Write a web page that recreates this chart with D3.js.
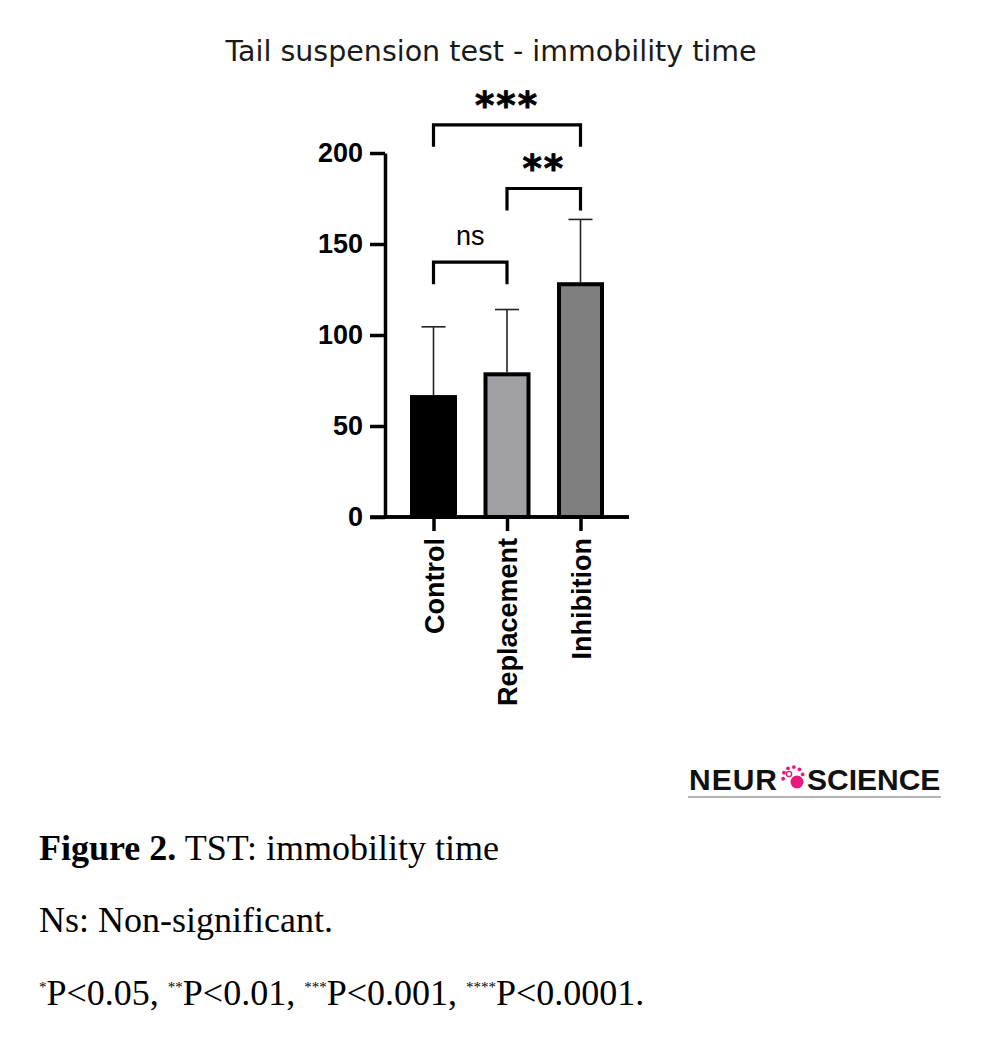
<!DOCTYPE html>
<html>
<head>
<meta charset="utf-8">
<script src="https://cdn.jsdelivr.net/npm/d3@7"></script>
<style>
  body { margin: 0; background: #fff; }
</style>
</head>
<body>
<div id="chart"></div>
<script>
// data
var groups = ["Control", "Replacement", "Inhibition"];
var means = [67, 79.5, 129];
var errors = [37.5, 34.5, 34.5];
var fills = ["#000000", "#a0a0a4", "#7f7f7f"];
var yTicks = [0, 50, 100, 150, 200];

// significance brackets: group indexes, bracket height (data units), label
var pairFrom = [0, 1, 0];
var pairTo = [1, 2, 2];
var pairY = [140, 180.5, 215.5];
var pairLabel = ["ns", "**", "***"];

var W = 983, H = 1044;

var svg = d3.select("#chart")
    .append("svg")
    .attr("width", W)
    .attr("height", H)
    .style("font-family", "'Liberation Sans', Arial, sans-serif");

svg.append("rect").attr("width", W).attr("height", H).attr("fill", "#fff");

// title
svg.append("text")
    .attr("x", 491)
    .attr("y", 61)
    .attr("text-anchor", "middle")
    .style("font-family", "'DejaVu Sans', Verdana, sans-serif")
    .style("font-size", "28.5px")
    .style("fill", "#1a1a1a")
    .text("Tail suspension test - immobility time");

// scales
var y = d3.scaleLinear().domain([0, 200]).range([517, 153]);
var x = d3.scalePoint().domain(groups).range([433.5, 580.5]);
var axisX0 = 385, axisX1 = 629;
var barW = 47, stroke = 4;

// y axis
var yAxis = svg.append("g")
    .attr("transform", "translate(" + axisX0 + ",0)")
    .call(d3.axisLeft(y).tickValues(yTicks).tickSize(15).tickSizeOuter(0).tickPadding(7));
yAxis.select(".domain").attr("stroke", "#000").attr("stroke-width", 3.5);
yAxis.selectAll(".tick line").attr("stroke", "#000").attr("stroke-width", 3.5);
yAxis.selectAll(".tick text")
    .style("font-family", "'Liberation Sans', Arial, sans-serif")
    .style("font-size", "27px")
    .style("font-weight", "bold")
    .attr("fill", "#000");

// x axis
var xAxis = svg.append("g")
    .attr("transform", "translate(0," + y(0) + ")")
    .call(d3.axisBottom(x).tickSize(14).tickSizeOuter(0).tickPadding(0));
xAxis.select(".domain").remove();
xAxis.selectAll(".tick line").attr("stroke", "#000").attr("stroke-width", 3.5);
xAxis.selectAll(".tick text")
    .attr("transform", "translate(0,21) rotate(-90)")
    .attr("text-anchor", "end")
    .attr("x", 0)
    .attr("y", 0)
    .attr("dy", "0.36em")
    .style("font-family", "'Liberation Sans', Arial, sans-serif")
    .style("font-size", "27px")
    .style("font-weight", "bold")
    .attr("fill", "#000");
xAxis.append("line")
    .attr("x1", axisX0 - 15)
    .attr("x2", axisX1)
    .attr("y1", 0)
    .attr("y2", 0)
    .attr("stroke", "#000")
    .attr("stroke-width", 3.5);

// error bars (upper only)
var err = svg.append("g").attr("stroke", "#222").attr("stroke-width", 1.6);
groups.forEach(function (g, i) {
    var cx = x(g);
    err.append("line")
        .attr("x1", cx).attr("x2", cx)
        .attr("y1", y(means[i])).attr("y2", y(means[i] + errors[i]));
    err.append("line")
        .attr("x1", cx - 12).attr("x2", cx + 12)
        .attr("y1", y(means[i] + errors[i])).attr("y2", y(means[i] + errors[i]));
});

// bars
svg.append("g")
    .selectAll("rect")
    .data(groups)
    .enter()
    .append("rect")
    .attr("x", function (d) { return x(d) - barW / 2 + stroke / 2; })
    .attr("y", function (d, i) { return y(means[i]) + stroke / 2; })
    .attr("width", barW - stroke)
    .attr("height", function (d, i) { return y(0) - y(means[i]) - stroke / 2; })
    .attr("fill", function (d, i) { return fills[i]; })
    .attr("stroke", "#000")
    .attr("stroke-width", stroke);

// redraw baseline over bar bottoms
svg.append("line")
    .attr("x1", axisX0).attr("x2", axisX1)
    .attr("y1", y(0)).attr("y2", y(0))
    .attr("stroke", "#000").attr("stroke-width", 3.5);

// brackets
var legLen = 22;
var br = svg.append("g");
pairY.forEach(function (v, i) {
    var x1 = x(groups[pairFrom[i]]), x2 = x(groups[pairTo[i]]);
    var top = y(v);
    br.append("path")
        .attr("d", "M" + x1 + "," + (top + legLen) + "V" + top + "H" + x2 + "V" + (top + legLen))
        .attr("fill", "none")
        .attr("stroke", "#000")
        .attr("stroke-width", 3.2);
    var isNs = pairLabel[i] === "ns";
    br.append("text")
        .attr("x", (x1 + x2) / 2)
        .attr("y", isNs ? top - 17 : top - 7)
        .attr("text-anchor", "middle")
        .style("font-family", isNs ? "'Liberation Sans', Arial, sans-serif" : "'DejaVu Sans', sans-serif")
        .style("font-size", isNs ? "27px" : "37px")
        .style("font-weight", isNs ? "normal" : "bold")
        .style("letter-spacing", isNs ? "0px" : "2px")
        .attr("stroke", isNs ? "none" : "#000")
        .attr("stroke-width", isNs ? 0 : 0.8)
        .attr("fill", "#000")
        .text(pairLabel[i]);
});

// journal logo
var logo = svg.append("g").style("font-family", "'Liberation Sans', Arial, sans-serif")
    .style("font-weight", "bold").style("font-size", "30px").attr("fill", "#111");
logo.append("text").attr("x", 689).attr("y", 790).style("letter-spacing", "1px").text("NEUR");
logo.append("text").attr("x", 807).attr("y", 790).text("SCIENCE");
var ring = [170, 205, 240, 275, 310, 345];
ring.forEach(function (a) {
    var r = a * Math.PI / 180;
    logo.append("circle")
        .attr("cx", 793 + 10 * Math.cos(r))
        .attr("cy", 777 + 10 * Math.sin(r))
        .attr("r", 1.9)
        .attr("fill", "#e8197d");
});
logo.append("circle").attr("cx", 797).attr("cy", 782).attr("r", 6.5).attr("fill", "#e8197d");
logo.append("circle").attr("cx", 789).attr("cy", 774).attr("r", 2.6).attr("fill", "none")
    .attr("stroke", "#e8197d").attr("stroke-width", 1.4);
logo.append("line").attr("x1", 688).attr("x2", 941).attr("y1", 797).attr("y2", 797)
    .attr("stroke", "#9a9a9a").attr("stroke-width", 1.5);

// caption
var cap = svg.append("g")
    .style("font-family", "'Liberation Serif', 'Times New Roman', serif")
    .style("font-size", "36px")
    .attr("fill", "#000");
var l1 = cap.append("text").attr("x", 39).attr("y", 860);
l1.append("tspan").style("font-weight", "bold").text("Figure 2.");
l1.append("tspan").text(" TST: immobility time");
cap.append("text").attr("x", 39).attr("y", 932).text("Ns: Non-significant.");
var l3 = cap.append("text").attr("x", 39).attr("y", 1005);
var levels = ["*", "**", "***", "****"];
var pvals = ["P<0.05, ", "P<0.01, ", "P<0.001, ", "P<0.0001."];
levels.forEach(function (s, i) {
    l3.append("tspan").attr("dy", -13).style("font-size", "15px").text(s);
    l3.append("tspan").attr("dy", 13).text(pvals[i]);
});
</script>
</body>
</html>
